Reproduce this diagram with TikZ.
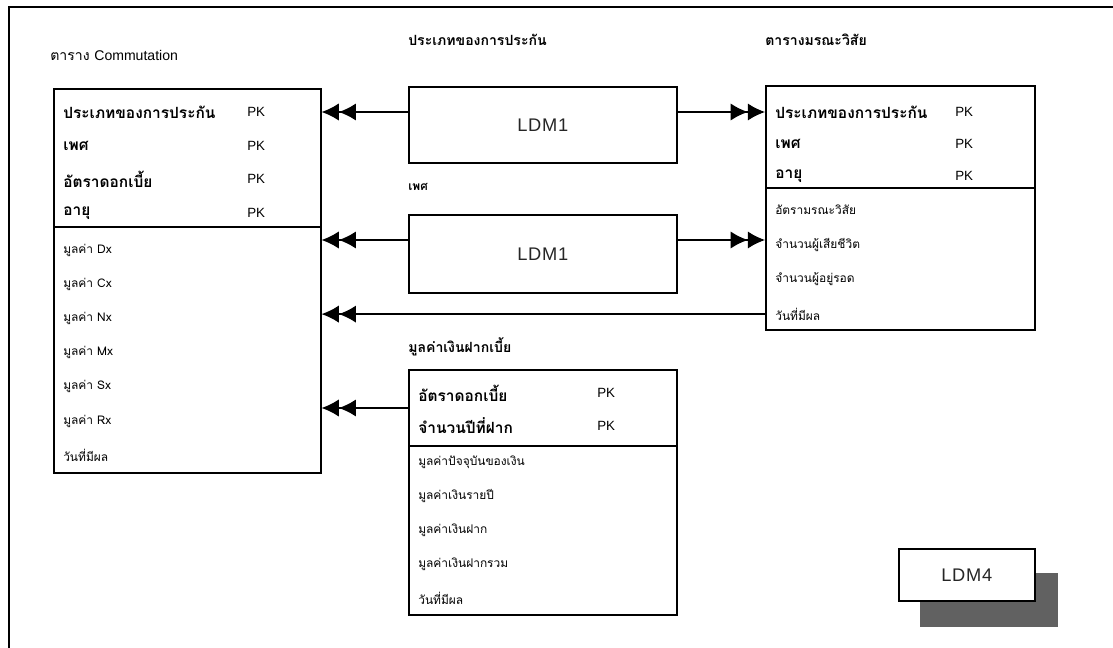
\documentclass[tikz,border=0pt]{standalone}
\usepackage{fontspec}
\setmainfont{Liberation Sans}
\newfontfamily\thaifont[Script=Thai]{Loma}
\usetikzlibrary{
  arrows.meta,
  positioning,
  calc
}

\begin{document}
\begin{tikzpicture}[
  x=0.25mm,
  y=-0.25mm,
  tbox/.style={
    draw,
    line width=1.1pt,
    anchor=north west,
    inner sep=0pt
  },
  ldm/.style={
    draw,
    line width=1.1pt,
    anchor=north west,
    inner sep=0pt,
    fill=white,
    text=black!85,
    font=\fontsize{13}{15}\selectfont\addfontfeature{LetterSpace=4}
  },
  keyrow/.style={
    anchor=west,
    inner sep=0pt,
    font=\thaifont\bfseries\fontsize{11}{13}\selectfont
  },
  attrow/.style={
    anchor=west,
    inner sep=0pt,
    font=\thaifont\fontsize{8.5}{10}\selectfont
  },
  pk/.style={
    anchor=west,
    inner sep=0pt,
    font=\fontsize{9.5}{11}\selectfont
  },
  ttl/.style={
    anchor=west,
    inner sep=0pt,
    font=\thaifont\bfseries\fontsize{10}{12}\selectfont
  },
  dblarrow/.style={
    -{Latex[length=4.3mm,width=4.3mm]Latex[length=4.3mm,width=4.3mm]},
    line width=0.95pt
  }
]
\useasboundingbox (0,0) rectangle (1113,648);

% --- page frame ---
\draw[line width=1.2pt] (1113,7) -- (9,7) -- (9,648);

% --- table boxes ---
\node[tbox,minimum width=66.75mm,minimum height=96mm] (comm) at (53,88) {};
\node[tbox,minimum width=67.25mm,minimum height=61mm] (mort) at (765,85) {};
\node[tbox,minimum width=67mm,minimum height=61.25mm] (dep) at (408,369) {};

\node[ldm,minimum width=67mm,minimum height=19mm] (ldmA) at (408,86) {LDM1};
\node[ldm,minimum width=67mm,minimum height=19.5mm] (ldmB) at (408,214) {LDM1};

\fill[black!62] (920,573) rectangle (1058,627);
\node[ldm,minimum width=34mm,minimum height=13mm] (ldmF) at (898,548) {LDM4};

% --- titles ---
\node[ttl,font=\thaifont\fontsize{10}{12}\selectfont] (commT) at (50,55)
  {ตาราง {\rmfamily Commutation}};
\node[ttl] (mortT) at (765,40) {ตารางมรณะวิสัย};
\node[ttl] (depT) at (408,347) {มูลค่าเงินฝากเบี้ย};
\node[ttl] (ldmAT) at (408,40) {ประเภทของการประกัน};
\node[ttl,font=\thaifont\bfseries\fontsize{8.5}{10}\selectfont] (ldmBT) at (408,187) {เพศ};

% --- dividers ---
\draw[line width=1.1pt] (comm.west |- 0,227) -- (comm.east |- 0,227);
\draw[line width=1.1pt] (mort.west |- 0,188) -- (mort.east |- 0,188);
\draw[line width=1.1pt] (dep.west |- 0,446) -- (dep.east |- 0,446);

% --- commutation rows ---
\foreach \t [count=\i] in {ประเภทของการประกัน, เพศ, อัตราดอกเบี้ย, อายุ} {
  \node[keyrow] (cK\i) at (63,{112+33.7*(\i-1)}) {\t};
  \node[pk] (cP\i) at (247,{112+33.7*(\i-1)}) {PK};
}
\foreach \t [count=\i] in {มูลค่า Dx, มูลค่า Cx, มูลค่า Nx, มูลค่า Mx,
    มูลค่า Sx, มูลค่า Rx, วันที่มีผล} {
  \node[attrow] (cA\i) at (63,{250+34.2*(\i-1)}) {\t};
}

% --- mortality rows ---
\foreach \t [count=\i] in {ประเภทของการประกัน, เพศ, อายุ} {
  \node[keyrow] (mK\i) at (775,{112+32*(\i-1)}) {\t};
  \node[pk] (mP\i) at (955,{112+32*(\i-1)}) {PK};
}
\foreach \t [count=\i] in {อัตรามรณะวิสัย, จำนวนผู้เสียชีวิต, จำนวนผู้อยู่รอด, วันที่มีผล} {
  \node[attrow] (mA\i) at (775,{210+34.7*(\i-1)}) {\t};
}

% --- deposit rows ---
\foreach \t [count=\i] in {อัตราดอกเบี้ย, จำนวนปีที่ฝาก} {
  \node[keyrow] (dK\i) at (418,{393+33*(\i-1)}) {\t};
  \node[pk] (dP\i) at (597,{393+33*(\i-1)}) {PK};
}
\foreach \t [count=\i] in {มูลค่าปัจจุบันของเงิน, มูลค่าเงินรายปี, มูลค่าเงินฝาก,
    มูลค่าเงินฝากรวม, วันที่มีผล} {
  \node[attrow] (dA\i) at (418,{462+34*(\i-1)}) {\t};
}

% --- relationships ---
\coordinate (gB) at (0,240);
\coordinate (gD) at (0,408);

\draw[dblarrow] (ldmA.west |- cK1) -- (comm.east |- cK1);
\draw[dblarrow] (ldmA.east |- mK1) -- (mort.west |- mK1);
\draw[dblarrow] (ldmB.west |- gB) -- (comm.east |- gB);
\draw[dblarrow] (ldmB.east |- gB) -- (mort.west |- gB);
\draw[dblarrow] (mort.west |- mA4) -- (comm.east |- mA4);
\draw[dblarrow] (dep.west |- gD) -- (comm.east |- gD);

\end{tikzpicture}
\end{document}
